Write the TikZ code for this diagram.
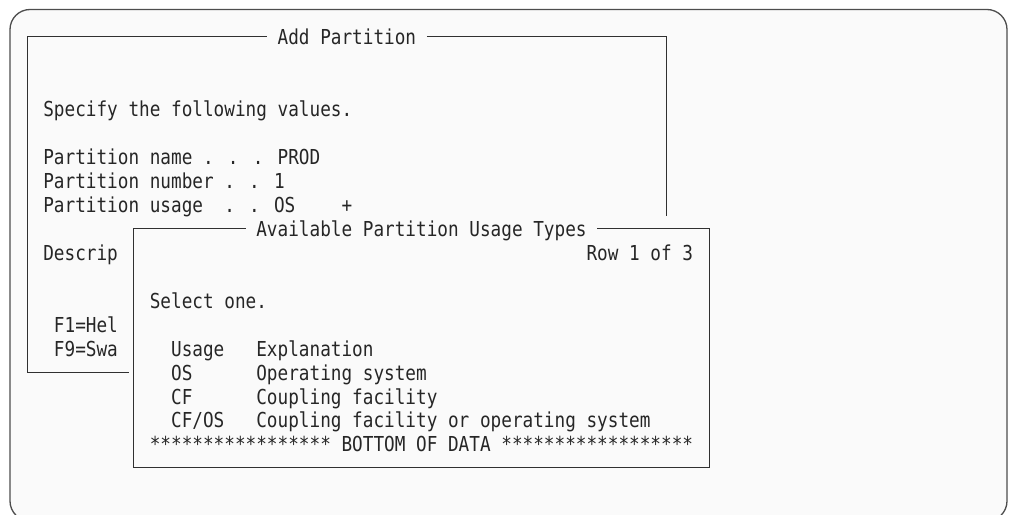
\documentclass[tikz,border=0pt]{standalone}
\usepackage{fontspec}
\newfontfamily\scrmono[FakeStretch=0.859]{DejaVu Sans Mono}
\definecolor{framecol}{HTML}{4D4D4D}
\definecolor{boxcol}{HTML}{303030}
\definecolor{txtcol}{HTML}{262626}
\definecolor{bgcol}{HTML}{FAFAFA}
\tikzset{
  outerframe/.style={draw=framecol, line width=1.3pt, fill=bgcol, rounded corners=20pt},
  boxline/.style={draw=boxcol, line width=0.9pt},
  txt/.style={anchor=base west, inner sep=0pt, outer sep=0pt, text=txtcol,
    font=\scrmono\fontsize{20.6}{24}\selectfont, yshift=-8pt},
  ttl/.style={txt, inner xsep=10.652pt}
}
\begin{document}
\begin{tikzpicture}[x=1pt,y=-1pt]
\useasboundingbox (0,0) rectangle (1011,514);
\begin{scope}
  \clip (0,0) rectangle (1011,514);
  \path[outerframe] (10,9.5) rectangle (1007,521);
\end{scope}
\begin{scope}[xshift=43.3pt, yshift=-36.9pt, x=10.652pt, y=-23.94pt]
  % main panel
  \coordinate (mTL) at (-1.5,0);
  \coordinate (mTR) at (58.5,0);
  \coordinate (mRE) at (58.5,7.5);
  \coordinate (mBL) at (-1.5,14);
  \coordinate (mBE) at (8,14);
  \node[ttl] (mtitle) at (21,0) {Add Partition};
  \draw[boxline] (mtitle.west |- mTL) -- (mTL) -- (mBL) -- (mBE);
  \draw[boxline] (mtitle.east |- mTR) -- (mTR) -- (mRE);

  \node[txt] (spec) at (0,3) {Specify the following values.};
  \node[txt] (pname) at (0,5) {Partition name . . . PROD};
  \node[txt] (pnum) at (0,6) {Partition number . . 1};
  \node[txt] (puse) at (0,7) {Partition usage};
  \node[txt] (pusev) at (17,7) {. . OS};
  \node[txt] (pplus) at (28,7) {+};
  \node[txt] (descr) at (0,9) {Descrip};
  \node[txt] (fone) at (1,12) {F1=Hel};
  \node[txt] (fnine) at (1,13) {F9=Swa};

  % popup
  \coordinate (pTL) at (8.5,8);
  \coordinate (pBL) at (8.5,18);
  \coordinate (pBR) at (62.5,18);
  \coordinate (pTR) at (62.5,8);
  \node[ttl] (ptitle) at (19,8) {Available Partition Usage Types};
  \draw[boxline] (ptitle.west |- pTL) -- (pTL) -- (pBL) -- (pBR) -- (pTR) -- (ptitle.east |- pTR);

  \node[txt] (rowinfo) at (51,9) {Row 1 of 3};
  \node[txt] (selone) at (10,11) {Select one.};
  \node[txt] (hUsage) at (12,13) {Usage};
  \node[txt] (hExpl) at (20,13) {Explanation};
  \node[txt] (uOS) at (12,14) {OS};
  \node[txt] (eOS) at (20,14) {Operating system};
  \node[txt] (uCF) at (12,15) {CF};
  \node[txt] (eCF) at (20,15) {Coupling facility};
  \node[txt] (uCFOS) at (12,16) {CF/OS};
  \node[txt] (eCFOS) at (20,16) {Coupling facility or operating system};
  \node[txt] (bottom) at (10,17) {***************** BOTTOM OF DATA ******************};
\end{scope}
\end{tikzpicture}
\end{document}
